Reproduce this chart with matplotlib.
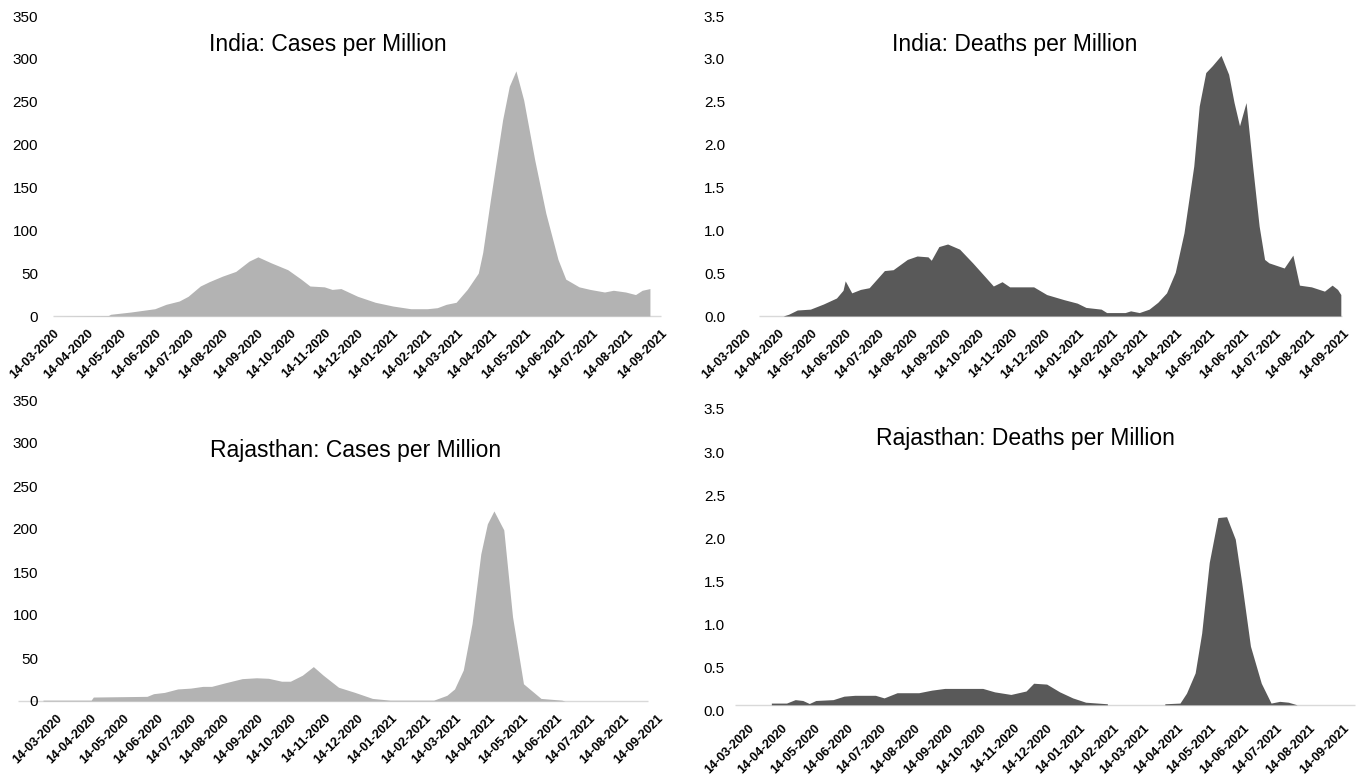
import numpy as np
import pandas as pd
import matplotlib
matplotlib.use("Agg")
import matplotlib.pyplot as plt
import matplotlib.dates as mdates

plt.rcParams['font.family'] = ['Liberation Sans', 'DejaVu Sans']

# ---- data ----
india_case_dates = ['2020-03-14', '2020-05-03', '2020-05-05', '2020-05-23', '2020-06-14', '2020-06-24',
                    '2020-07-06', '2020-07-14', '2020-07-25', '2020-08-02', '2020-08-14', '2020-08-26',
                    '2020-09-07', '2020-09-15', '2020-09-27', '2020-10-12', '2020-10-24', '2020-11-01',
                    '2020-11-14', '2020-11-21', '2020-11-29', '2020-12-14', '2020-12-30', '2021-01-15',
                    '2021-01-31', '2021-02-15', '2021-02-24', '2021-03-04', '2021-03-13', '2021-03-23',
                    '2021-04-02', '2021-04-06', '2021-04-13', '2021-04-24', '2021-04-30', '2021-05-06',
                    '2021-05-13', '2021-05-23', '2021-06-02', '2021-06-13', '2021-06-20', '2021-07-02',
                    '2021-07-12', '2021-07-25', '2021-08-02', '2021-08-13', '2021-08-22', '2021-08-28',
                    '2021-09-04']
india_case_vals = [0, 0.5, 2, 4.6, 8.5, 13.6,
                   17.5, 23, 35, 40, 46.5, 52,
                   64, 69, 62, 54, 43, 35,
                   34, 31, 32, 23, 16, 11.6,
                   8.5, 8.5, 9.7, 13.6, 16, 31,
                   50, 74, 136, 229, 268, 286,
                   252, 182, 120, 66, 43, 34,
                   31, 28, 30, 28, 25, 30,
                   32]

india_death_dates = ['2020-03-27', '2020-04-18', '2020-04-23', '2020-05-01', '2020-05-13', '2020-05-25',
                     '2020-06-06', '2020-06-12', '2020-06-14', '2020-06-20', '2020-06-28', '2020-07-06',
                     '2020-07-20', '2020-07-28', '2020-08-10', '2020-08-19', '2020-08-29', '2020-09-01',
                     '2020-09-08', '2020-09-16', '2020-09-27', '2020-10-09', '2020-10-21', '2020-10-28',
                     '2020-11-05', '2020-11-12', '2020-12-04', '2020-12-16', '2021-01-01', '2021-01-13',
                     '2021-01-21', '2021-02-04', '2021-02-09', '2021-02-26', '2021-03-03', '2021-03-11',
                     '2021-03-20', '2021-03-28', '2021-04-05', '2021-04-13', '2021-04-21', '2021-04-30',
                     '2021-05-05', '2021-05-11', '2021-05-17', '2021-05-25', '2021-06-01', '2021-06-06',
                     '2021-06-11', '2021-06-17', '2021-06-23', '2021-06-29', '2021-07-04', '2021-07-08',
                     '2021-07-22', '2021-07-30', '2021-08-05', '2021-08-16', '2021-08-28', '2021-09-04',
                     '2021-09-09', '2021-09-12']
india_death_vals = [0, 0, 0.02, 0.07, 0.08, 0.14,
                    0.21, 0.30, 0.41, 0.27, 0.31, 0.33,
                    0.53, 0.54, 0.66, 0.70, 0.69, 0.65,
                    0.81, 0.84, 0.78, 0.62, 0.45, 0.35,
                    0.40, 0.34, 0.34, 0.25, 0.19, 0.15,
                    0.10, 0.08, 0.04, 0.04, 0.06, 0.04,
                    0.08, 0.16, 0.27, 0.51, 0.97, 1.75,
                    2.45, 2.84, 2.92, 3.04, 2.82, 2.49,
                    2.22, 2.49, 1.75, 1.05, 0.66, 0.62,
                    0.56, 0.71, 0.36, 0.34, 0.29, 0.36,
                    0.31, 0.25]

raj_case_dates = ['2020-03-02', '2020-04-15', '2020-04-17', '2020-06-05', '2020-06-11', '2020-06-21',
                  '2020-07-03', '2020-07-15', '2020-07-26', '2020-08-03', '2020-08-15', '2020-08-31',
                  '2020-09-13', '2020-09-24', '2020-10-06', '2020-10-14', '2020-10-25', '2020-11-04',
                  '2020-11-13', '2020-11-27', '2020-12-12', '2020-12-28', '2021-01-13', '2021-02-22',
                  '2021-03-06', '2021-03-13', '2021-03-21', '2021-03-29', '2021-04-06', '2021-04-12',
                  '2021-04-18', '2021-04-27', '2021-05-05', '2021-05-15', '2021-05-31', '2021-06-19',
                  '2021-06-22']
raj_case_vals = [1, 1, 4.6, 5.4, 8.5, 10,
                 14, 15, 17, 17, 21, 26,
                 27, 26.4, 23, 23, 30, 40,
                 30, 16, 10, 3, 1, 1,
                 6.6, 14, 36, 90, 171, 206,
                 221, 199, 98, 20, 3, 1,
                 0]

raj_death_dates = ['2020-04-05', '2020-04-19', '2020-04-27', '2020-05-04', '2020-05-10', '2020-05-16',
                   '2020-06-01', '2020-06-11', '2020-06-21', '2020-07-10', '2020-07-18', '2020-07-30',
                   '2020-08-19', '2020-08-31', '2020-09-12', '2020-10-17', '2020-10-28', '2020-11-12',
                   '2020-11-26', '2020-12-03', '2020-12-15', '2020-12-27', '2021-01-08', '2021-01-20',
                   '2021-02-09', '2021-03-07', '2021-04-03', '2021-04-17', '2021-04-23', '2021-05-01',
                   '2021-05-07', '2021-05-14', '2021-05-22', '2021-05-30', '2021-06-07', '2021-06-13',
                   '2021-06-21', '2021-07-01', '2021-07-10', '2021-07-18', '2021-07-26', '2021-08-03']
raj_death_vals = [0.02, 0.02, 0.06, 0.05, 0.015, 0.05,
                  0.06, 0.10, 0.11, 0.11, 0.08, 0.14,
                  0.14, 0.17, 0.19, 0.19, 0.15, 0.12,
                  0.16, 0.25, 0.24, 0.15, 0.08, 0.03,
                  0.012, np.nan, 0.012, 0.02, 0.135, 0.37,
                  0.83, 1.65, 2.17, 2.18, 1.92, 1.41,
                  0.68, 0.25, 0.02, 0.04, 0.03, 0.0]

CASE_COLOR = '#b3b3b3'
DEATH_COLOR = '#595959'
BASE_COLOR = '#d9d9d9'

W, H = 1358, 774
fig = plt.figure(figsize=(W / 100, H / 100), dpi=100)


def panel(box, xlim, base_span, dates, vals, color, ymax, step, fmt, ypad,
          title, tpos, shift=0.0):
    left, right, y0, ytop = box
    ax = fig.add_axes([left / W, 1 - y0 / H, (right - left) / W, (y0 - ytop) / H])
    x = pd.to_datetime(dates)
    ax.fill_between(x, np.array(vals, dtype=float), 0, color=color, lw=0)
    ax.hlines(0, pd.Timestamp(base_span[0]), pd.Timestamp(base_span[1]),
              color=BASE_COLOR, lw=1, zorder=0, clip_on=False)
    ax.set_xlim(pd.Timestamp(xlim[0]), pd.Timestamp(xlim[1]))
    ax.set_ylim(-shift, ymax - shift)
    ticks = np.arange(0, ymax + step / 2, step)
    ax.set_yticks(ticks - shift)
    ax.set_yticklabels([fmt.format(t) for t in ticks])
    ax.xaxis.set_major_locator(mdates.MonthLocator(bymonthday=14))
    ax.xaxis.set_major_formatter(mdates.DateFormatter('%d-%m-%Y'))
    ax.tick_params(axis='y', length=0, pad=ypad, labelsize=11)
    ax.tick_params(axis='x', length=0, pad=8, labelsize=9)
    for lab in ax.get_xticklabels():
        lab.set_rotation(45)
        lab.set_ha('right')
        lab.set_va('top')
        lab.set_rotation_mode('anchor')
        lab.set_fontweight('bold')
    for s in ax.spines.values():
        s.set_visible(False)
    fig.text(tpos[0] / W, 1 - tpos[1] / H, title, ha='center', va='center', fontsize=16.5)
    return ax


panel((53, 661, 316, 16), ('2020-03-14', '2021-09-14'), ('2020-03-14', '2021-09-14'),
      india_case_dates, india_case_vals, CASE_COLOR, 350, 50, '{:.0f}', 10.8,
      'India: Cases per Million', (328, 45))

panel((745, 1343, 316, 16), ('2020-03-14', '2021-09-14'), ('2020-03-27', '2021-09-13'),
      india_death_dates, india_death_vals, DEATH_COLOR, 3.5, 0.5, '{:.1f}', 14.4,
      'India: Deaths per Million', (1015, 45))

panel((43, 657, 701, 400), ('2020-03-02', '2021-09-14'), ('2020-02-08', '2021-09-06'),
      raj_case_dates, raj_case_vals, CASE_COLOR, 350, 50, '{:.0f}', 3.6,
      'Rajasthan: Cases per Million', (356, 450))

panel((735, 1355, 711, 409), ('2020-03-02', '2021-09-25'), ('2020-03-02', '2021-09-25'),
      raj_death_dates, raj_death_vals, DEATH_COLOR, 3.5, 0.5, '{:.1f}', 7.2,
      'Rajasthan: Deaths per Million', (1025, 438), shift=0.066)

fig.savefig('out.png', dpi=100)
